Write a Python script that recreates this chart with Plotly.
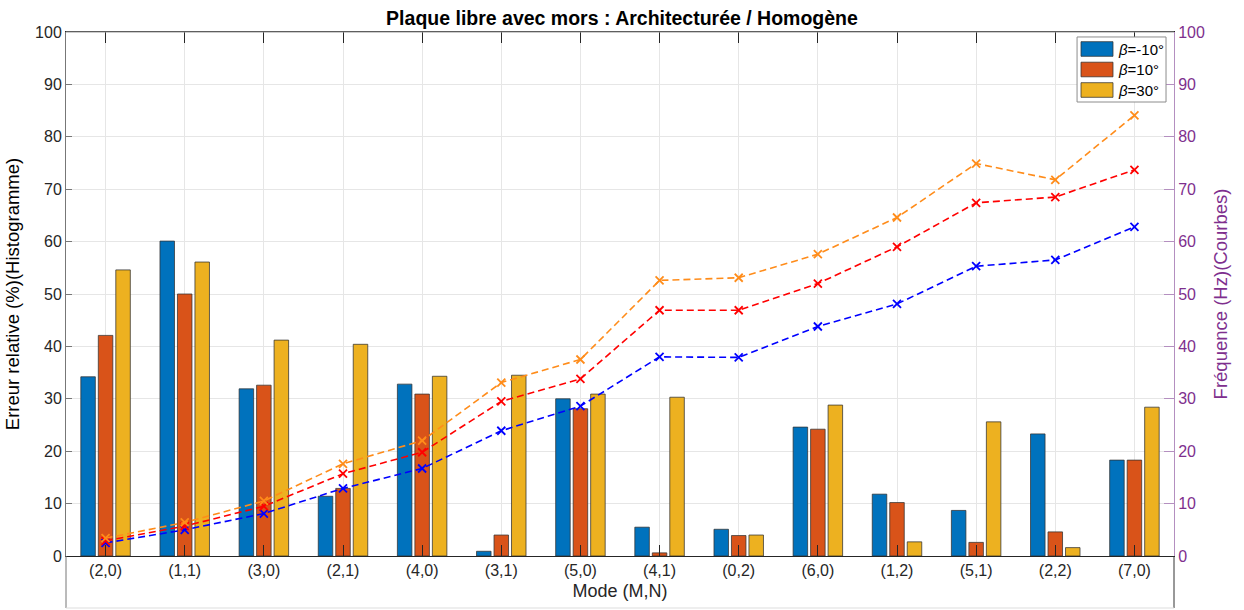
import plotly.graph_objects as go

# Vibration modes along the horizontal axis
modes = ["(2,0)", "(1,1)", "(3,0)", "(2,1)", "(4,0)", "(3,1)", "(5,0)",
         "(4,1)", "(0,2)", "(6,0)", "(1,2)", "(5,1)", "(2,2)", "(7,0)"]

# Relative error (%) per mode, one list per angle (bars, left axis)
err_m10 = [34.2, 60.1, 31.9, 11.4, 32.8, 0.9, 30.0, 5.5, 5.1, 24.6, 11.8, 8.7, 23.3, 18.3]
err_p10 = [42.1, 50.0, 32.6, 12.9, 30.9, 4.0, 28.1, 0.6, 3.9, 24.2, 10.2, 2.6, 4.6, 18.3]
err_p30 = [54.6, 56.1, 41.2, 40.4, 34.3, 34.5, 30.9, 30.3, 4.0, 28.8, 2.7, 25.6, 1.6, 28.4]

# Natural frequencies (Hz) per mode (dashed curves, right axis)
freq_m10 = [2.5, 5.0, 8.1, 12.9, 16.7, 23.9, 28.6, 38.0, 37.9, 43.8, 48.1, 55.3, 56.5, 62.8]
freq_p10 = [2.9, 5.7, 9.5, 15.7, 19.8, 29.5, 33.8, 46.9, 46.9, 52.0, 59.0, 67.4, 68.5, 73.7]
freq_p30 = [3.4, 6.4, 10.5, 17.6, 22.0, 33.1, 37.5, 52.6, 53.1, 57.6, 64.6, 74.9, 71.8, 84.1]

legend_labels = ["<i>β</i>=-10°", "<i>β</i>=10°", "<i>β</i>=30°"]
bar_colors = ["#0072BD", "#D95319", "#EDB120"]
line_colors = ["#0000FF", "#FF0000", "#FF8C1A"]

FONT = "Liberation Sans, Arial, sans-serif"
PURPLE = "#7E2F8E"

fig = go.Figure()

for vals, col, name in zip([err_m10, err_p10, err_p30], bar_colors, legend_labels):
    fig.add_trace(go.Bar(
        x=modes, y=vals, name=name, marker_color=col,
        marker_line=dict(color="rgba(50,50,50,0.75)", width=1),
        showlegend=False, yaxis="y",
    ))

for vals, col in zip([freq_m10, freq_p10, freq_p30], line_colors):
    fig.add_trace(go.Scatter(
        x=modes, y=vals, mode="lines+markers", yaxis="y2",
        line=dict(color=col, width=1.6, dash="7px,4px"),
        marker=dict(symbol="x-thin", size=8, line=dict(color=col, width=1.8)),
        showlegend=False,
    ))

# Hand-built legend with wide colour patches
x0, x1 = 0.9125, 0.9928
y_top, y_bot = 0.9905, 0.8664
shapes = [dict(type="rect", xref="paper", yref="paper", x0=x0, x1=x1, y0=y_bot, y1=y_top,
               line=dict(color="#8c8c8c", width=1), fillcolor="white", layer="above")]
annotations = []
row_centers_px = [49, 69.5, 90]
for yc_px, col, lab in zip(row_centers_px, bar_colors, legend_labels):
    yc = (556 - yc_px) / 524
    h = 7.3 / 524
    shapes.append(dict(type="rect", xref="paper", yref="paper",
                       x0=(1081 - 66) / 1108, x1=(1113 - 66) / 1108, y0=yc - h, y1=yc + h,
                       fillcolor=col, line=dict(color="rgba(50,50,50,0.75)", width=1),
                       layer="above"))
    annotations.append(dict(xref="paper", yref="paper", x=(1116 - 66) / 1108, y=yc,
                            text=lab, showarrow=False, xanchor="left", yanchor="middle",
                            font=dict(family=FONT, size=15, color="#000")))

# Frame extension beneath the axes
bottom = -52 / 524
shapes += [
    dict(type="line", xref="paper", yref="paper", x0=0, x1=0, y0=bottom, y1=0,
         line=dict(color="#777", width=1)),
    dict(type="line", xref="paper", yref="paper", x0=1, x1=1, y0=bottom, y1=0,
         line=dict(color="#333", width=1)),
    dict(type="line", xref="paper", yref="paper", x0=0, x1=1, y0=bottom, y1=bottom,
         line=dict(color="#dddddd", width=1)),
    dict(type="line", xref="paper", yref="paper", x0=0, x1=1, y0=1, y1=1,
         line=dict(color="#999", width=1)),
]

fig.update_layout(
    width=1244, height=610,
    margin=dict(l=66, r=70, t=32, b=54),
    paper_bgcolor="white", plot_bgcolor="white",
    barmode="group", bargap=0.337, bargroupgap=0.17,
    font=dict(family=FONT, size=16, color="#262626"),
    title=dict(text="<b>Plaque libre avec mors : Architecturée / Homogène</b>",
               x=0.5, xanchor="center", y=1 - 18 / 610, yanchor="middle",
               font=dict(family=FONT, size=19.5, color="#000")),
    xaxis=dict(
        type="category", range=[-0.5, 13.5],
        showgrid=True, gridcolor="#e6e6e6", gridwidth=1,
        ticks="inside", ticklen=11, tickcolor="#262626", tickwidth=1,
        mirror="ticks", showline=True, linecolor="#262626", linewidth=1,
        tickfont=dict(size=16, color="#262626"),
        title=dict(text="Mode (M,N)", font=dict(size=18, color="#262626"), standoff=6),
    ),
    yaxis=dict(
        range=[0, 100], dtick=10, showgrid=True, gridcolor="#e6e6e6", gridwidth=1,
        ticks="inside", ticklen=6, tickcolor="#777", tickwidth=1,
        showline=True, linecolor="#777", linewidth=1, zeroline=False,
        tickfont=dict(size=16, color="#262626"),
        title=dict(text="Erreur relative (%)(Histogramme)",
                   font=dict(size=18.5, color="#000"), standoff=10),
    ),
    yaxis2=dict(
        range=[0, 100], dtick=10, overlaying="y", side="right",
        showgrid=False, zeroline=False,
        ticks="inside", ticklen=10, tickcolor="#B48FC0", tickwidth=1,
        showline=True, linecolor="#B48FC0", linewidth=1,
        tickfont=dict(size=16, color=PURPLE),
        title=dict(text="Fréquence (Hz)(Courbes)",
                   font=dict(size=18.5, color=PURPLE), standoff=10),
    ),
    shapes=shapes, annotations=annotations,
)

fig.write_html("out.html")
